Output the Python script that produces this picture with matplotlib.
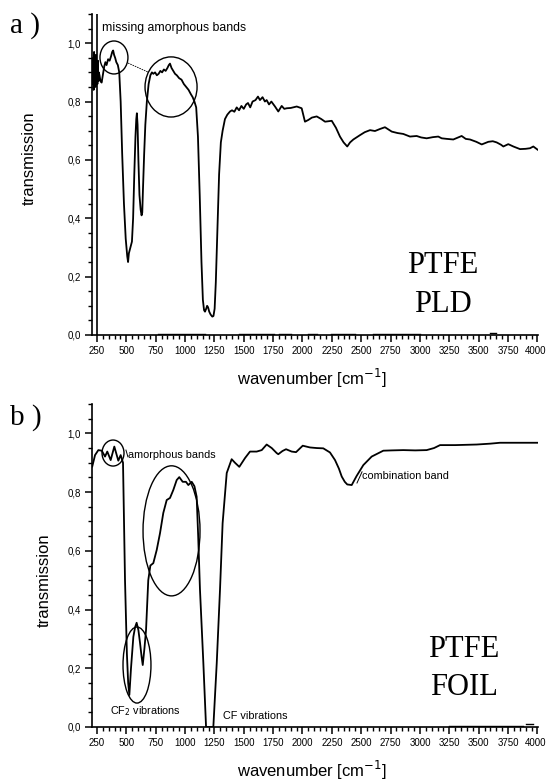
import numpy as np
import matplotlib
matplotlib.use("Agg")
import matplotlib.pyplot as plt
import matplotlib.transforms as mtransforms
from matplotlib.patches import Ellipse
from matplotlib.ticker import MultipleLocator, FuncFormatter

plt.rcParams['font.family'] = ['Liberation Sans', 'DejaVu Sans']

# --- a) PTFE PLD spectrum (read off the figure) ---
pld_x = [210, 214, 218, 222, 226, 230, 234, 238, 242, 246, 250, 254, 258, 262, 266,
         272, 280, 290, 300, 312, 322, 332, 345, 358, 370, 380, 388, 396, 405, 415,
         428, 440, 452, 465, 480, 495, 508, 515, 522, 535, 548, 558, 568, 578, 585,
         590, 596, 603, 612, 622, 630, 636, 642, 652, 662, 675, 690, 705, 718, 730,
         745, 760, 775, 790, 805, 820, 835, 850, 862, 872, 885, 900, 915, 930, 950,
         970, 990, 1010, 1030, 1050, 1065, 1080, 1095, 1110, 1125, 1140, 1152, 1162,
         1170, 1180, 1188, 1196, 1206, 1218, 1232, 1242, 1252, 1262, 1275, 1290, 1305,
         1320, 1340, 1360, 1383, 1400, 1420, 1440, 1460, 1480, 1500, 1520, 1536, 1555,
         1575, 1600, 1621, 1638, 1660, 1680, 1695, 1715, 1735, 1766, 1794, 1823, 1845,
         1866, 1900, 1951, 1993, 2021, 2050, 2080, 2121, 2160, 2192, 2249, 2285, 2319,
         2350, 2381, 2405, 2433, 2490, 2530, 2575, 2617, 2660, 2702, 2760, 2810, 2858,
         2915, 2972, 3010, 3057, 3110, 3156, 3185, 3230, 3284, 3320, 3355, 3390, 3426,
         3480, 3526, 3582, 3620, 3653, 3690, 3710, 3752, 3795, 3852, 3900, 3937, 3965,
         4002]
pld_y = [0.90, 0.86, 0.95, 0.84, 0.97, 0.87, 0.93, 0.85, 0.96, 0.88, 0.92, 0.86, 0.94, 0.87, 0.90,
         0.89, 0.87, 0.865, 0.89, 0.92, 0.935, 0.925, 0.945, 0.94, 0.955, 0.97, 0.975, 0.96, 0.95, 0.935,
         0.925, 0.90, 0.80, 0.62, 0.45, 0.33, 0.27, 0.25, 0.28, 0.30, 0.32, 0.40, 0.55, 0.68, 0.74,
         0.76, 0.72, 0.60, 0.48, 0.43, 0.41, 0.42, 0.50, 0.62, 0.72, 0.80, 0.86, 0.89, 0.90, 0.895,
         0.90, 0.89, 0.895, 0.905, 0.90, 0.91, 0.905, 0.915, 0.925, 0.93, 0.915, 0.905, 0.895, 0.89, 0.88,
         0.875, 0.86, 0.85, 0.84, 0.825, 0.815, 0.80, 0.78, 0.68, 0.48, 0.25, 0.12, 0.085,
         0.08, 0.09, 0.10, 0.095, 0.08, 0.07, 0.063, 0.065, 0.09, 0.18, 0.35, 0.55, 0.66,
         0.70, 0.74, 0.755, 0.766, 0.77, 0.765, 0.78, 0.77, 0.785, 0.775, 0.79, 0.795, 0.78,
         0.80, 0.805, 0.817, 0.805, 0.815, 0.80, 0.805, 0.79, 0.80, 0.783, 0.766, 0.785, 0.775,
         0.777, 0.778, 0.783, 0.777, 0.731, 0.737, 0.745, 0.749, 0.74, 0.731, 0.734, 0.71, 0.68,
         0.66, 0.646, 0.66, 0.670, 0.685, 0.695, 0.702, 0.699, 0.706, 0.712, 0.697, 0.692, 0.689,
         0.680, 0.682, 0.677, 0.674, 0.678, 0.680, 0.674, 0.672, 0.670, 0.676, 0.682, 0.672, 0.670,
         0.662, 0.653, 0.662, 0.664, 0.660, 0.652, 0.646, 0.654, 0.646, 0.637, 0.638, 0.640, 0.646,
         0.635]

# sharp detector spike at the start of the PLD scan
pld_spike_x = [248, 248]
pld_spike_y = [0.0, 1.1]

# flat reference trace lying on the axis
pld_base_x = [770, 1170, np.nan, 1460, 1760, np.nan, 1800, 1900, np.nan, 2050, 2120,
              np.nan, 2240, 2450, np.nan, 2600, 3000, np.nan, 3600, 3650]
pld_base_y = [0.005, 0.005, np.nan, 0.004, 0.004, np.nan, 0.005, 0.005, np.nan, 0.005, 0.005,
              np.nan, 0.005, 0.005, np.nan, 0.005, 0.005, np.nan, 0.007, 0.007]

# --- b) PTFE FOIL spectrum ---
foil_x = [210, 234, 262, 291, 319, 338, 367, 398, 432, 452, 472, 489, 505, 516, 526,
          540, 560, 575, 588, 603, 617, 630, 640, 655, 668, 687, 705, 730, 759, 787,
          815, 844, 872, 900, 929, 951, 980, 1008, 1028, 1057, 1080, 1099, 1112, 1127,
          1156, 1179, 1210, 1241, 1270, 1298, 1320, 1355, 1397, 1425, 1462, 1511, 1553,
          1610, 1653, 1695, 1738, 1780, 1794, 1830, 1860, 1908, 1945, 2002, 2064, 2120,
          2177, 2234, 2277, 2310, 2334, 2360, 2381, 2419, 2461, 2518, 2589, 2688, 2760,
          2858, 2960, 3057, 3120, 3171, 3300, 3483, 3600, 3681, 3850, 4008]
foil_y = [0.887, 0.926, 0.943, 0.941, 0.921, 0.938, 0.909, 0.955, 0.907, 0.926, 0.90, 0.50, 0.25, 0.15, 0.109,
          0.20, 0.307, 0.34, 0.355, 0.33, 0.286, 0.24, 0.211, 0.27, 0.33, 0.50, 0.55, 0.558, 0.603, 0.66,
          0.729, 0.773, 0.78, 0.807, 0.841, 0.851, 0.835, 0.835, 0.824, 0.835, 0.82, 0.784, 0.65, 0.47,
          0.218, 0.0, 0.0, 0.0, 0.218, 0.47, 0.694, 0.865, 0.912, 0.90, 0.886, 0.916, 0.938,
          0.938, 0.943, 0.962, 0.95, 0.933, 0.929, 0.94, 0.946, 0.938, 0.936, 0.958, 0.952, 0.95,
          0.949, 0.935, 0.909, 0.88, 0.853, 0.835, 0.826, 0.824, 0.855, 0.892, 0.921, 0.941, 0.942,
          0.943, 0.942, 0.943, 0.95, 0.96, 0.96, 0.962, 0.965, 0.968, 0.968, 0.968]

foil_base_x = [3250, 3880, np.nan, 3900, 3960]
foil_base_y = [0.004, 0.004, np.nan, 0.010, 0.010]

yticks = [0.0, 0.2, 0.4, 0.6, 0.8, 1.0]
xticks = [250, 500, 750, 1000, 1250, 1500, 1750, 2000, 2250, 2500, 2750, 3000, 3250, 3500, 3750, 4000]

W, H = 547, 782
fig = plt.figure(figsize=(W / 100, H / 100), dpi=100)


def px_axes(left, right, top, bottom):
    return fig.add_axes([left / W, 1 - bottom / H, (right - left) / W, (bottom - top) / H])


def style(ax):
    ax.set_xlim(208, 4005)
    ax.set_ylim(0, 1.1)
    for s in ['top', 'right']:
        ax.spines[s].set_visible(False)
    for s in ['left', 'bottom']:
        ax.spines[s].set_linewidth(1.2)
    ax.set_xticks(xticks)
    ax.set_yticks(yticks)
    ax.xaxis.set_minor_locator(MultipleLocator(125))
    ax.yaxis.set_minor_locator(MultipleLocator(0.1))
    ax.yaxis.set_major_formatter(FuncFormatter(lambda v, p: f"{v:.1f}".replace('.', ',')))
    ax.tick_params(which='major', direction='out', length=5, width=1.1, labelsize=7.0, pad=3)
    ax.tick_params(which='minor', direction='out', length=3, width=1.0)
    ax.minorticks_on()
    # keep the last tick label ("4000") inside the picture
    last = ax.get_xticklabels()[-1]
    last.set_transform(last.get_transform() +
                       mtransforms.ScaledTranslation(-2 / 100, 0, fig.dpi_scale_trans))


# ---------- a) ----------
ax1 = px_axes(92, 538, 14, 335)
style(ax1)
ax1.plot(pld_x, pld_y, color='black', lw=1.3)
ax1.plot(pld_spike_x, pld_spike_y, color='black', lw=1.2)
ax1.plot(pld_base_x, pld_base_y, color='black', lw=1.0)
ax1.add_patch(Ellipse((395, 0.951), 238, 0.113, fill=False, lw=1.0, color='black'))
ax1.add_patch(Ellipse((881, 0.850), 443, 0.206, fill=False, lw=1.0, color='black'))
ax1.plot([514, 685], [0.932, 0.901], color='black', lw=0.6, ls=(0, (2, 1)))
ax1.text(293, 1.042, 'missing amorphous bands', fontsize=8.8, va='baseline', ha='left')
ax1.set_xlabel('wavenumber [cm$^{-1}$]', fontsize=12)
ax1.xaxis.label.set_va('center')
ax1.xaxis.set_label_coords(0.492, -0.134)
ax1.set_ylabel('transmission', fontsize=12)
ax1.yaxis.label.set_va('center')
ax1.yaxis.set_label_coords(-0.141, 0.55)

# ---------- b) ----------
ax2 = px_axes(92, 538, 404, 727)
style(ax2)
ax2.plot(foil_x, foil_y, color='black', lw=1.3)
ax2.plot(foil_base_x, foil_base_y, color='black', lw=1.0)
ax2.add_patch(Ellipse((387, 0.933), 187, 0.0886, fill=False, lw=1.0, color='black'))
ax2.add_patch(Ellipse((885, 0.668), 485, 0.443, fill=False, lw=1.0, color='black'))
ax2.add_patch(Ellipse((591, 0.211), 238, 0.259, fill=False, lw=1.0, color='black'))
ax2.plot([497, 514], [0.943, 0.920], color='black', lw=0.7)
ax2.text(516, 0.928, 'amorphous bands', fontsize=7.8, va='center', ha='left')
ax2.plot([2464, 2507], [0.831, 0.869], color='black', lw=0.7)
ax2.text(2510, 0.855, 'combination band', fontsize=7.8, va='center', ha='left')
ax2.text(361, 0.054, 'CF$_2$ vibrations', fontsize=7.8, va='center', ha='left')
ax2.text(1323, 0.037, 'CF vibrations', fontsize=7.8, va='center', ha='left')
ax2.set_xlabel('wavenumber [cm$^{-1}$]', fontsize=12)
ax2.xaxis.label.set_va('center')
ax2.xaxis.set_label_coords(0.492, -0.133)
ax2.set_ylabel('transmission', fontsize=12)
ax2.yaxis.label.set_va('center')
ax2.yaxis.set_label_coords(-0.108, 0.455)

# panel letters and sample names
serif = ['Liberation Serif', 'DejaVu Serif']
fig.text(10 / W, 1 - 33 / H, 'a )', fontsize=21, family=serif, va='baseline', ha='left')
fig.text(10 / W, 1 - 425 / H, 'b )', fontsize=21, family=serif, va='baseline', ha='left')
fig.text(443 / W, 1 - 273 / H, 'PTFE', fontsize=22, family=serif, va='baseline', ha='center')
fig.text(443 / W, 1 - 312 / H, 'PLD', fontsize=22, family=serif, va='baseline', ha='center')
fig.text(464 / W, 1 - 657 / H, 'PTFE', fontsize=22, family=serif, va='baseline', ha='center')
fig.text(464 / W, 1 - 695 / H, 'FOIL', fontsize=22, family=serif, va='baseline', ha='center')

fig.savefig('out.png', dpi=100)
